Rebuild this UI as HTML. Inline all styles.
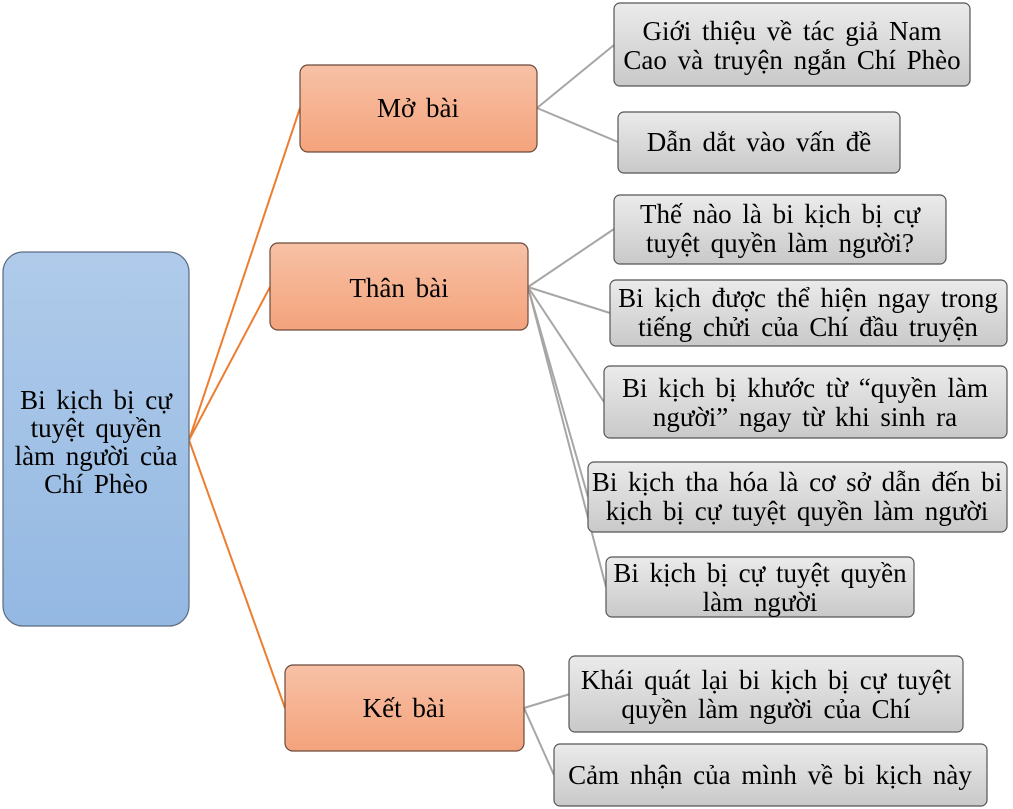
<!DOCTYPE html>
<html><head><meta charset="utf-8"><style>
html,body{margin:0;padding:0;background:#fff;}
svg{display:block;}
text{font-family:"Liberation Serif","DejaVu Serif",serif;font-size:27px;word-spacing:4px;fill:#000;text-anchor:middle;}
</style></head><body>
<svg width="1013" height="809" viewBox="0 0 1013 809" xmlns="http://www.w3.org/2000/svg">
<defs>
<linearGradient id="gb" x1="0" y1="0" x2="0" y2="1"><stop offset="0" stop-color="#b0cbea"/><stop offset="1" stop-color="#93b8e2"/></linearGradient>
<linearGradient id="go" x1="0" y1="0" x2="0" y2="1"><stop offset="0" stop-color="#f7c1a6"/><stop offset="1" stop-color="#f4a37c"/></linearGradient>
<linearGradient id="gg" x1="0" y1="0" x2="0" y2="1"><stop offset="0" stop-color="#ebebeb"/><stop offset="1" stop-color="#c9c9c9"/></linearGradient>
</defs>
<g stroke="#ed7d31" stroke-width="2" fill="none">
<line x1="189" y1="440" x2="300" y2="108"/>
<line x1="189" y1="440" x2="270" y2="287"/>
<line x1="189" y1="440" x2="285" y2="708"/>
</g>
<g stroke="#a6a6a6" stroke-width="2" fill="none">
<line x1="537" y1="108" x2="614" y2="45"/>
<line x1="537" y1="108" x2="618" y2="142"/>
<line x1="528" y1="287" x2="614" y2="229"/>
<line x1="528" y1="287" x2="610" y2="313"/>
<line x1="528" y1="287" x2="604" y2="402"/>
<line x1="528" y1="287" x2="588" y2="497"/>
<line x1="528" y1="287" x2="606" y2="587"/>
<line x1="524" y1="708" x2="570" y2="694"/>
<line x1="524" y1="708" x2="554" y2="775"/>
</g>
<rect x="3" y="252" width="186" height="374" rx="20" fill="url(#gb)" stroke="#5a6b80" stroke-width="1.2"/>
<text x="96" y="409">Bi kịch bị cự</text>
<text x="96" y="437">tuyệt quyền</text>
<text x="96" y="465">làm người của</text>
<text x="96" y="493">Chí Phèo</text>
<g stroke="#6b4a3a" stroke-width="1.2">
<rect x="300" y="65" width="237" height="87" rx="8" fill="url(#go)"/>
<rect x="270" y="243" width="258" height="87" rx="8" fill="url(#go)"/>
<rect x="285" y="665" width="239" height="86" rx="8" fill="url(#go)"/>
</g>
<text x="418" y="117">Mở bài</text>
<text x="399" y="297">Thân bài</text>
<text x="404" y="717">Kết bài</text>
<g stroke="#555" stroke-width="1.2" fill="url(#gg)">
<rect x="614" y="3" width="356" height="83" rx="6"/>
<rect x="618" y="112" width="282" height="61" rx="6"/>
<rect x="614" y="195" width="332" height="69" rx="6"/>
<rect x="610" y="280" width="397" height="66" rx="6"/>
<rect x="604" y="366" width="403" height="72" rx="6"/>
<rect x="588" y="462" width="419" height="70" rx="6"/>
<rect x="606" y="557" width="308" height="60" rx="6"/>
<rect x="569" y="656" width="394" height="76" rx="6"/>
<rect x="554" y="744" width="433" height="62" rx="6"/>
</g>
<text x="792" y="40">Giới thiệu về tác giả Nam</text>
<text x="792" y="69">Cao và truyện ngắn Chí Phèo</text>
<text x="759" y="151">Dẫn dắt vào vấn đề</text>
<text x="780" y="223">Thế nào là bi kịch bị cự</text>
<text x="780" y="252">tuyệt quyền làm người?</text>
<text x="808" y="307">Bi kịch được thể hiện ngay trong</text>
<text x="808" y="336">tiếng chửi của Chí đầu truyện</text>
<text x="805" y="397">Bi kịch bị khước từ “quyền làm</text>
<text x="805" y="426">người” ngay từ khi sinh ra</text>
<text x="797" y="491">Bi kịch tha hóa là cơ sở dẫn đến bi</text>
<text x="797" y="520">kịch bị cự tuyệt quyền làm người</text>
<text x="760" y="582">Bi kịch bị cự tuyệt quyền</text>
<text x="760" y="611">làm người</text>
<text x="766" y="689">Khái quát lại bi kịch bị cự tuyệt</text>
<text x="766" y="718">quyền làm người của Chí</text>
<text x="770" y="784">Cảm nhận của mình về bi kịch này</text>
</svg>
</body></html>
